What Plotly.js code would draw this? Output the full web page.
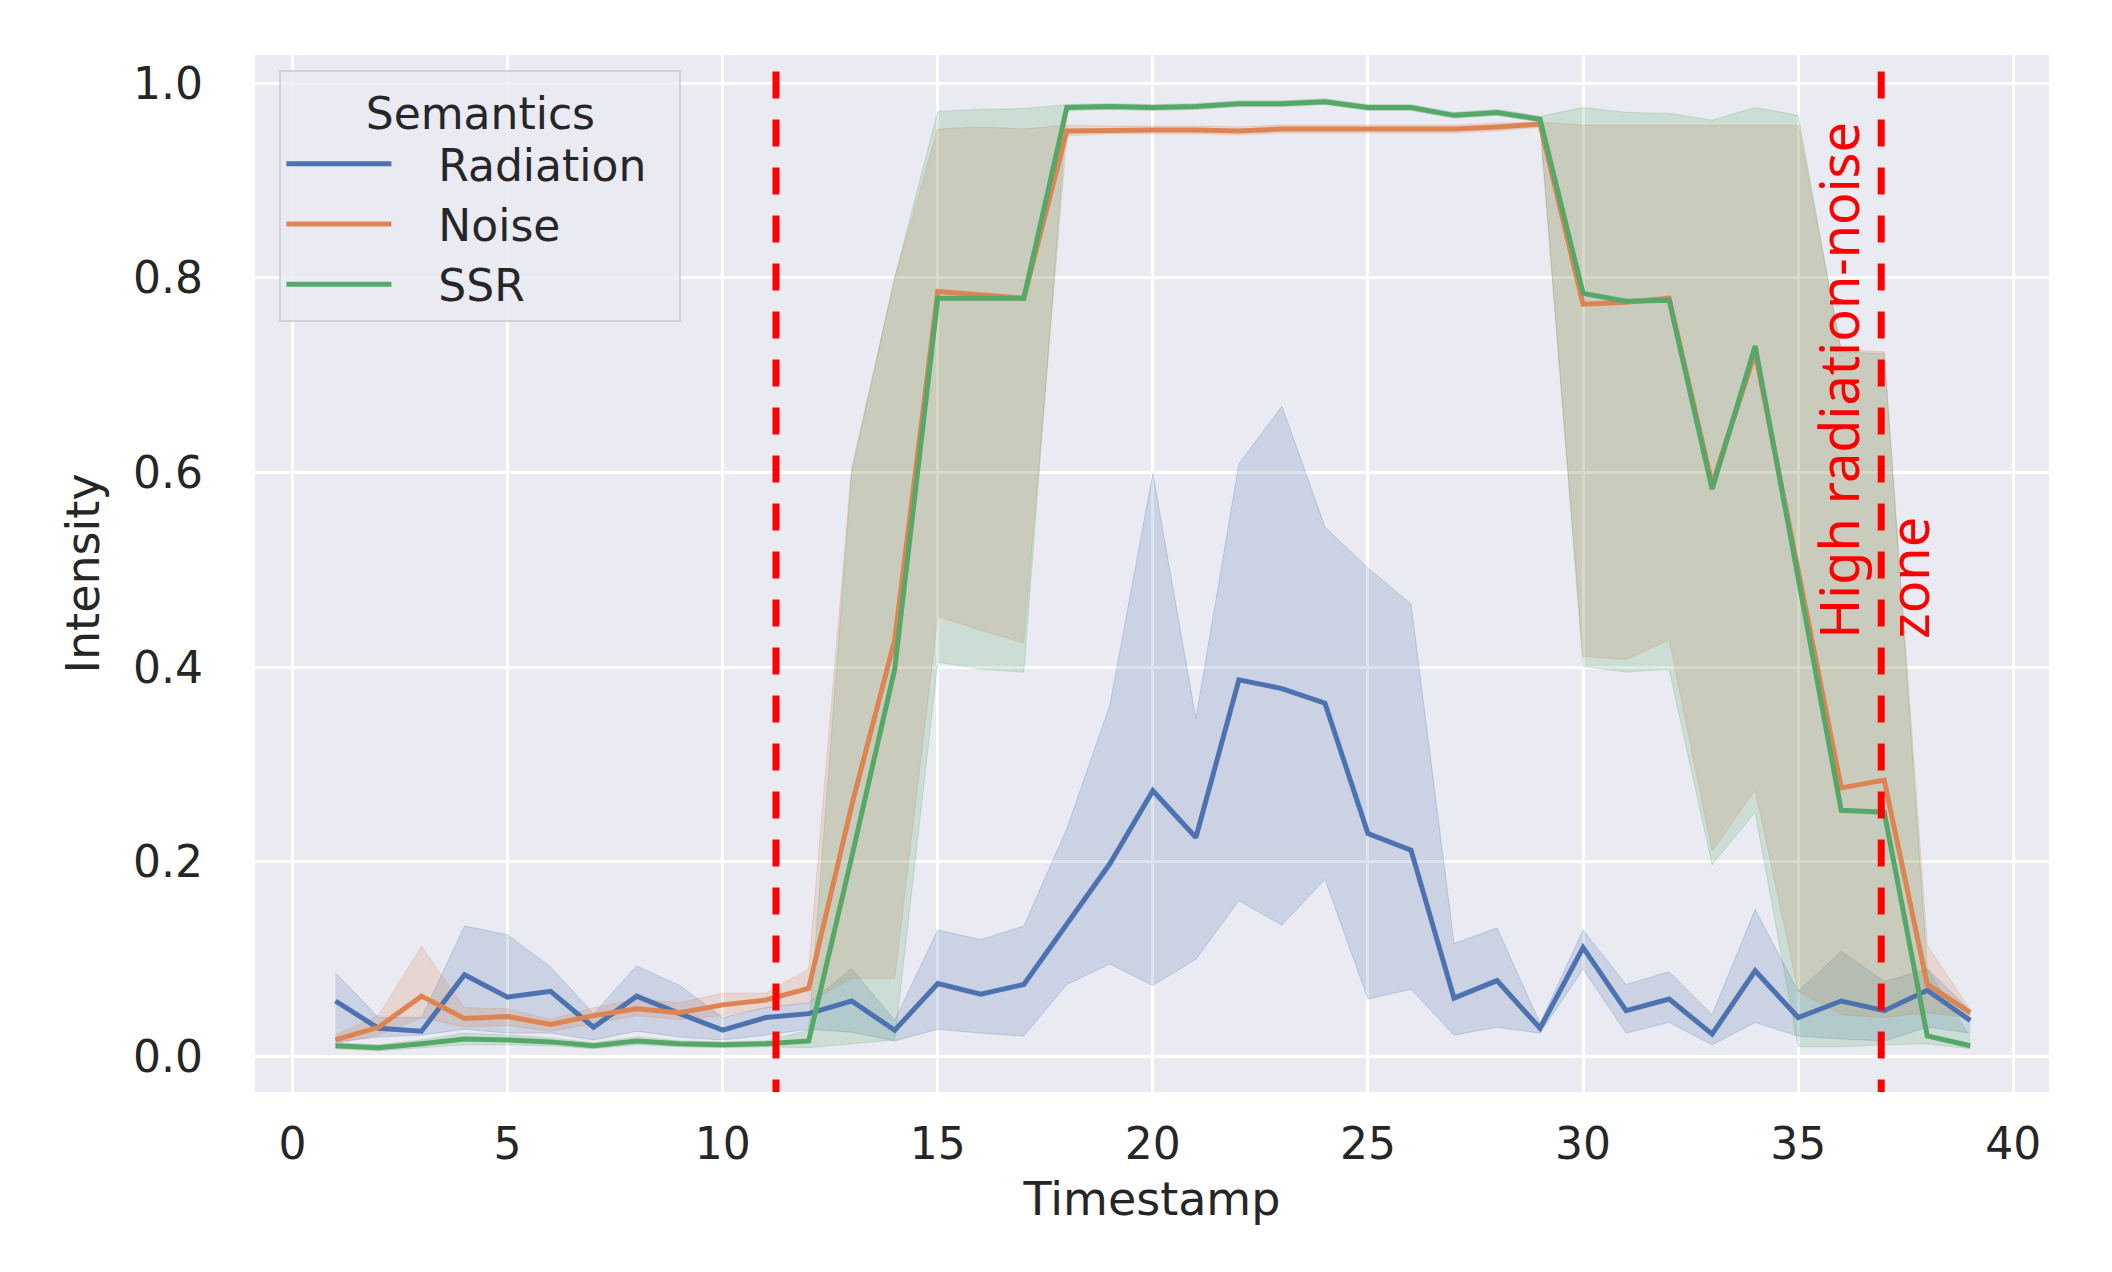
<!DOCTYPE html>
<html lang="en">
<head>
    <meta charset="UTF-8">
    <title>Semantics intensity</title>
    <script src="https://cdn.plot.ly/plotly-3.0.1.min.js"></script>
    <style>
        body { margin: 0; background: white; }
        #plot { width: 2112px; height: 1272px; }
    </style>
</head>

<body>
<div id="plot"></div>

<script>

    const timestamps = []
    for (let t = 1; t <= 39; t++) {
        timestamps.push(t)
    }

    const radiationMean = [0.057, 0.029, 0.026, 0.084, 0.061, 0.067, 0.030, 0.062, 0.044, 0.027,
        0.040, 0.044, 0.057, 0.027, 0.075, 0.064, 0.074, 0.137, 0.198, 0.273,
        0.225, 0.387, 0.378, 0.363, 0.229, 0.212, 0.060, 0.078, 0.029, 0.112,
        0.047, 0.059, 0.023, 0.088, 0.040, 0.057, 0.047, 0.068, 0.037]
    const radiationUpper = [0.086, 0.040, 0.040, 0.134, 0.125, 0.092, 0.044, 0.093, 0.073, 0.040,
        0.050, 0.055, 0.090, 0.037, 0.130, 0.120, 0.134, 0.234, 0.361, 0.599,
        0.347, 0.609, 0.668, 0.544, 0.502, 0.465, 0.116, 0.132, 0.034, 0.130,
        0.074, 0.087, 0.043, 0.151, 0.067, 0.108, 0.077, 0.090, 0.047]
    const radiationLower = [0.015, 0.020, 0.022, 0.028, 0.024, 0.024, 0.017, 0.026, 0.020, 0.017,
        0.022, 0.028, 0.025, 0.016, 0.028, 0.024, 0.021, 0.074, 0.095, 0.073,
        0.100, 0.160, 0.135, 0.182, 0.059, 0.069, 0.022, 0.030, 0.024, 0.090,
        0.024, 0.035, 0.012, 0.035, 0.021, 0.018, 0.016, 0.030, 0.024]

    const noiseMean = [0.017, 0.030, 0.062, 0.039, 0.041, 0.033, 0.042, 0.049, 0.045, 0.053,
        0.058, 0.070, 0.258, 0.428, 0.786, 0.783, 0.779, 0.951, 0.952, 0.952,
        0.952, 0.951, 0.953, 0.953, 0.953, 0.953, 0.953, 0.955, 0.958, 0.773,
        0.775, 0.779, 0.588, 0.723, 0.500, 0.276, 0.284, 0.074, 0.045]
    const noiseUpper = [0.022, 0.042, 0.113, 0.050, 0.049, 0.038, 0.050, 0.059, 0.055, 0.065,
        0.065, 0.090, 0.605, 0.800, 0.953, 0.955, 0.953, 0.957, 0.956, 0.956,
        0.956, 0.955, 0.957, 0.957, 0.957, 0.957, 0.957, 0.959, 0.960, 0.957,
        0.957, 0.957, 0.957, 0.957, 0.957, 0.726, 0.724, 0.114, 0.048]
    const noiseLower = [0.013, 0.022, 0.040, 0.030, 0.032, 0.026, 0.034, 0.042, 0.038, 0.042,
        0.050, 0.056, 0.080, 0.080, 0.452, 0.438, 0.425, 0.946, 0.948, 0.948,
        0.948, 0.947, 0.949, 0.949, 0.949, 0.949, 0.949, 0.951, 0.955, 0.411,
        0.408, 0.428, 0.211, 0.274, 0.067, 0.043, 0.040, 0.045, 0.040]

    const ssrMean = [0.011, 0.009, 0.013, 0.018, 0.017, 0.015, 0.011, 0.016, 0.013, 0.012,
        0.013, 0.016, 0.205, 0.398, 0.779, 0.779, 0.779, 0.975, 0.976, 0.975,
        0.976, 0.979, 0.979, 0.981, 0.975, 0.975, 0.967, 0.970, 0.963, 0.784,
        0.776, 0.777, 0.583, 0.730, 0.490, 0.253, 0.251, 0.021, 0.011]
    const ssrUpper = [0.014, 0.012, 0.017, 0.024, 0.022, 0.019, 0.014, 0.020, 0.016, 0.015,
        0.016, 0.027, 0.600, 0.800, 0.971, 0.973, 0.974, 0.978, 0.979, 0.978,
        0.979, 0.982, 0.982, 0.984, 0.978, 0.978, 0.970, 0.973, 0.966, 0.975,
        0.970, 0.969, 0.962, 0.975, 0.967, 0.724, 0.722, 0.090, 0.020]
    const ssrLower = [0.008, 0.006, 0.009, 0.012, 0.012, 0.011, 0.008, 0.012, 0.010, 0.009,
        0.010, 0.009, 0.013, 0.017, 0.405, 0.398, 0.395, 0.972, 0.973, 0.972,
        0.973, 0.976, 0.976, 0.978, 0.972, 0.972, 0.964, 0.967, 0.960, 0.401,
        0.395, 0.398, 0.197, 0.251, 0.010, 0.010, 0.012, 0.013, 0.008]

    const seriesNames = ['Radiation', 'Noise', 'SSR']
    const zoneBounds = [11.24, 36.93]
    const zoneLabel = 'High radiation-noise<br>zone'

    // seaborn "deep" palette
    const colors = ['#4C72B0', '#DD8452', '#55A868']
    const bandFill = ['rgba(76,114,176,0.2)', 'rgba(221,132,82,0.2)', 'rgba(85,168,104,0.2)']
    const bandEdge = ['rgba(76,114,176,0.25)', 'rgba(221,132,82,0.25)', 'rgba(85,168,104,0.25)']

    const means = [radiationMean, noiseMean, ssrMean]
    const uppers = [radiationUpper, noiseUpper, ssrUpper]
    const lowers = [radiationLower, noiseLower, ssrLower]

    const data = []

    // bands first so every line sits on top, like matplotlib
    for (let i = 0; i < 3; i++) {
        data.push({
            x: timestamps,
            y: uppers[i],
            type: 'scatter',
            mode: 'lines',
            line: { color: bandEdge[i], width: 1 },
            showlegend: false,
            hoverinfo: 'skip'
        })
        data.push({
            x: timestamps,
            y: lowers[i],
            type: 'scatter',
            mode: 'lines',
            fill: 'tonexty',
            fillcolor: bandFill[i],
            line: { color: bandEdge[i], width: 1 },
            showlegend: false,
            hoverinfo: 'skip'
        })
    }

    // spaces push the label away from the line sample and widen the box, as in the seaborn legend
    const pad = '\u00a0\u00a0\u00a0'
    const tail = '\u00a0\u00a0'
    for (let i = 0; i < 3; i++) {
        data.push({
            x: timestamps,
            y: means[i],
            name: pad + seriesNames[i] + tail,
            type: 'scatter',
            mode: 'lines',
            line: { color: colors[i], width: 5 }
        })
    }

    const tickFont = { family: 'DejaVu Sans', size: 44, color: '#262626' }
    const titleFont = { family: 'DejaVu Sans', size: 46, color: '#262626' }

    const shapes = zoneBounds.map(b => ({
        type: 'line',
        xref: 'x', yref: 'y',
        x0: b, x1: b,
        y0: 1.012, y1: -0.04,
        line: { color: '#FF0000', width: 7, dash: '27px,21px' }
    }))

    const layout = {
        width: 2112,
        height: 1272,
        margin: { l: 255, r: 63, t: 55, b: 180 },
        paper_bgcolor: 'white',
        plot_bgcolor: '#EAEAF2',
        showlegend: true,
        xaxis: {
            range: [-0.87, 40.83],
            tickvals: [0, 5, 10, 15, 20, 25, 30, 35, 40],
            showgrid: true,
            gridcolor: 'white',
            gridwidth: 3,
            zeroline: false,
            showline: false,
            ticks: '',
            ticklabelstandoff: 22,
            tickfont: tickFont,
            title: { text: 'Timestamp', font: titleFont, standoff: 14 }
        },
        yaxis: {
            range: [-0.0365, 1.029],
            tickvals: [0, 0.2, 0.4, 0.6, 0.8, 1.0],
            tickformat: '.1f',
            showgrid: true,
            gridcolor: 'white',
            gridwidth: 3,
            zeroline: false,
            showline: false,
            ticks: '',
            ticklabelstandoff: 51,
            tickfont: tickFont,
            title: { text: 'Intensity', font: titleFont, standoff: 18 }
        },
        legend: {
            x: 0.0136,
            y: 0.986,
            xanchor: 'left',
            yanchor: 'top',
            traceorder: 'normal',
            bgcolor: 'rgba(234,234,242,0.8)',
            bordercolor: 'rgba(204,204,204,0.8)',
            borderwidth: 2,
            itemwidth: 105,
            font: { family: 'DejaVu Sans', size: 44, color: '#262626' },
            title: { text: 'Semantics', side: 'top center', font: { family: 'DejaVu Sans', size: 44, color: '#262626' } }
        },
        shapes: shapes,
        annotations: [{
            text: zoneLabel,
            xref: 'x', yref: 'y',
            x: 36.72, y: 0.6945,
            xanchor: 'center', yanchor: 'middle',
            textangle: -90,
            align: 'left',
            showarrow: false,
            font: { family: 'Noto Sans', size: 54, color: '#FF0000' }
        }]
    }

    Plotly.newPlot('plot', data, layout, { displayModeBar: false, staticPlot: true })

</script>

</body>
</html>
